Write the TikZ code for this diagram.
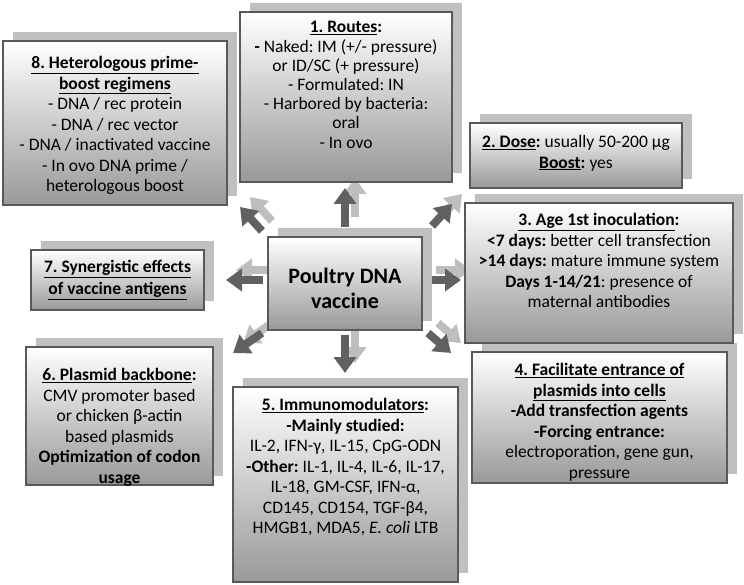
\documentclass[tikz,border=0pt]{standalone}
\usepackage{fontspec}
\setmainfont{Carlito}
\frenchspacing
\usetikzlibrary{arrows.meta,shadows}

\definecolor{framegray}{HTML}{595959}
\definecolor{shadegray}{HTML}{C0C0C0}
\definecolor{arrowdark}{HTML}{616161}
\definecolor{arrowlight}{HTML}{BEBEBE}

% box content: height, width, top gap, lines
\newcommand{\panel}[4]{\parbox[c][#1][t]{#2}{\centering\vspace*{#3}#4}}
\newcommand{\ul}[1]{\underline{\textbf{#1}}}
% block arrow with its pale copy behind
\newcommand{\fatarrow}[2]{%
  \draw[bigarrow, arrowlight] ([shift={(10,-10)}]#1) -- ([shift={(10,-10)}]#2);
  \draw[bigarrow, arrowdark] (#1) -- (#2);}

\tikzset{
  panelbox/.style={draw=framegray, line width=1.4pt, inner sep=0pt,
    top color=white, middle color=gray!25, bottom color=gray!80,
    general shadow={fill=shadegray, shadow xshift=10pt, shadow yshift=9pt},
    font=\fontsize{17.5}{20.5}\selectfont},
  bigarrow/.style={line width=8pt, -{Triangle[width=22pt,length=16pt]}}
}

\begin{document}
\begin{tikzpicture}[x=1pt,y=-1pt]
    \useasboundingbox (0,0) rectangle (744,585);

    % arrows around the centre
    \coordinate (routes-tail) at (345,227);
    \coordinate (routes-tip) at (345,188);
    \coordinate (prime-tail) at (262,231);
    \coordinate (prime-tip) at (240,207);
    \coordinate (dose-tail) at (432,226);
    \coordinate (dose-tip) at (452,204);
    \coordinate (synergy-tail) at (263,280);
    \coordinate (synergy-tip) at (226,280);
    \coordinate (age-tail) at (426,280);
    \coordinate (age-tip) at (461,280);
    \coordinate (plasmid-tail) at (262,333);
    \coordinate (plasmid-tip) at (233,353);
    \coordinate (immuno-tail) at (345,335);
    \coordinate (immuno-tip) at (345,373);
    \coordinate (entrance-tail) at (428,333);
    \coordinate (entrance-tip) at (451,353);
    \fatarrow{routes-tail}{routes-tip}
    \fatarrow{prime-tail}{prime-tip}
    \fatarrow{dose-tail}{dose-tip}
    \fatarrow{synergy-tail}{synergy-tip}
    \fatarrow{age-tail}{age-tip}
    \fatarrow{plasmid-tail}{plasmid-tip}
    \fatarrow{immuno-tail}{immuno-tip}
    \fatarrow{entrance-tail}{entrance-tip}

    \node[panelbox] (prime) at (115,123) {\panel{164pt}{224pt}{15.5pt}{%
        \ul{8. Heterologous prime-}\\ \ul{boost regimens}\\
        - DNA / rec protein\\ - DNA / rec vector\\ - DNA / inactivated vaccine\\
        - In ovo DNA prime /\\ heterologous boost}};
    \node[panelbox] (routes) at (346,97) {\panel{170pt}{212pt}{9.5pt}{%
        \fontsize{17.5}{19.2}\selectfont
        \ul{1. Routes}\textbf{:}\\ \textbf{-} Naked: IM (+/- pressure)\\
        or ID/SC (+ pressure)\\ - Formulated: IN\\ - Harbored by bacteria:\\
        oral\\ - In ovo}};
    \node[panelbox] (dose) at (576,155.5) {\panel{65pt}{212pt}{12.5pt}{%
        \ul{2. Dose}\textbf{:} usually 50-200 µg\\ \ul{Boost}\textbf{:} yes}};
    \node[panelbox] (entrance) at (599.5,417.5) {\panel{131pt}{255pt}{11.5pt}{%
        \ul{4. Facilitate entrance of}\\ \ul{plasmids into cells}\\
        \textbf{-Add transfection agents}\\ \textbf{-Forcing entrance:}\\
        electroporation, gene gun,\\ pressure}};
    \node[panelbox] (age) at (599,273) {\panel{140pt}{268pt}{10.5pt}{%
        \ul{3. Age 1st inoculation}\textbf{:}\\
        \textbf{<7 days:} better cell transfection\\
        \textbf{>14 days:} mature immune system\\
        \textbf{Days 1-14/21}: presence of\\ maternal antibodies}};
    \node[panelbox] (immuno) at (345.5,484.5) {\panel{195pt}{225pt}{11.5pt}{%
        \ul{5. Immunomodulators}\textbf{:}\\ \textbf{-Mainly studied:}\\
        IL-2, IFN-γ, IL-15, CpG-ODN\\ \textbf{-Other:} IL-1, IL-4, IL-6, IL-17,\\
        IL-18, GM-CSF, IFN-α,\\ CD145, CD154, TGF-β4,\\
        HMGB1, MDA5, \textit{E. coli} LTB}};
    \node[panelbox] (plasmid) at (119.5,416) {\panel{138pt}{187pt}{21.5pt}{%
        \ul{6. Plasmid backbone}\textbf{:}\\ CMV promoter based\\
        or chicken β-actin\\ based plasmids\\
        \textbf{Optimization of codon}\\ \textbf{usage}}};
    \node[panelbox] (synergy) at (117.5,280) {\panel{60pt}{173pt}{10.5pt}{%
        \fontsize{17.5}{22}\selectfont
        \ul{7. Synergistic effects}\\ \ul{of vaccine antigens}}};
    \node[panelbox] (core) at (345,283.5) {\panel{93pt}{154pt}{31pt}{%
        \fontsize{22}{25}\selectfont\bfseries Poultry DNA\\ vaccine}};
\end{tikzpicture}
\end{document}
